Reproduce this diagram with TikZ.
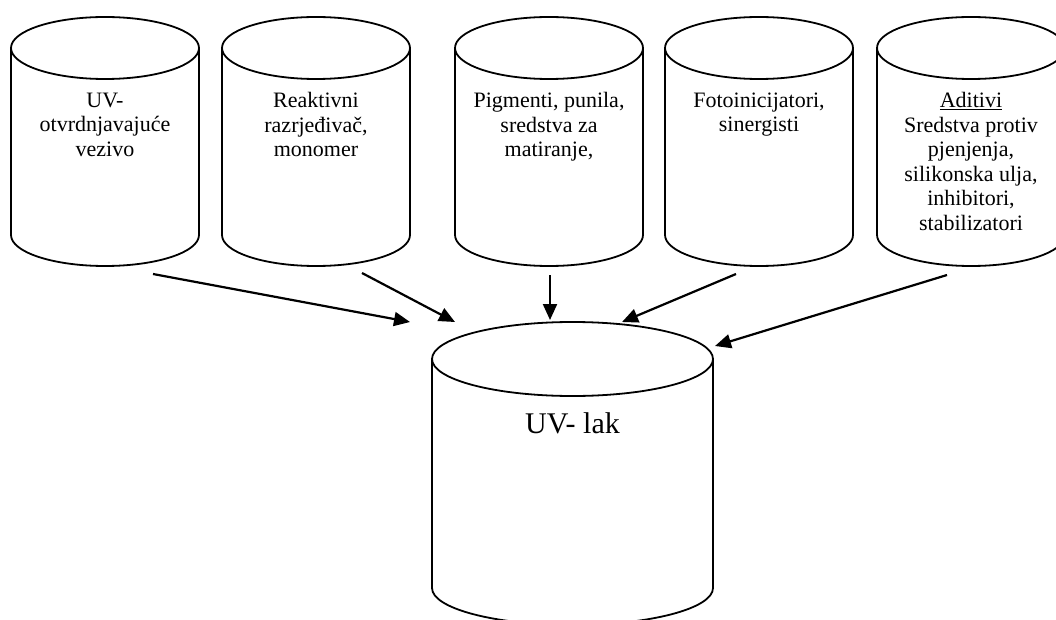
\documentclass[tikz,border=0pt]{standalone}
\usepackage{fontspec}
\setmainfont{Liberation Serif}
\usetikzlibrary{arrows.meta}
\tikzset{
  rim/.style={line width=1.8pt},
  feed/.style={-{Triangle[length=16pt,width=14pt]},line width=2.2pt},
  inscription/.style={align=center,inner sep=0pt,anchor=north,
    font=\fontsize{22}{24.5}\selectfont},
  pics/barrel/.style n args={3}{code={
    \draw[rim] (-#1,0) -- (-#1,-#3)
      arc[start angle=180,end angle=360,x radius=#1,y radius=#2] -- (#1,0);
    \draw[rim] (0,0) ellipse[x radius=#1,y radius=#2];
  }},
}

\begin{document}
\begin{tikzpicture}[x=1pt,y=1pt]
  \clip (0,0) rectangle (1056,-620);
  % raw materials
  \foreach \cx in {105,316,549,759,971}
    \pic at (\cx,-48) {barrel={94}{31}{187}};
  % product
  \pic at (572.5,-359) {barrel={140.5}{37}{229}};

  \node (binder) [inscription] at (105,-92.5) {UV-\\otvrdnjavajuće\\vezivo};
  \node (diluent) [inscription] at (316,-92.5) {Reaktivni\\razrjeđivač,\\monomer};
  \node (pigment) [inscription] at (549,-92.5) {Pigmenti, punila,\\sredstva za\\matiranje,};
  \node (photo) [inscription] at (759,-92.5) {Fotoinicijatori,\\sinergisti};
  \node (additive) [inscription] at (971,-92.5)
    {\underline{Aditivi}\\Sredstva protiv\\pjenjenja,\\silikonska ulja,\\inhibitori,\\stabilizatori};
  \node (lacquer) [inscription,font=\fontsize{30}{34}\selectfont] at (572.5,-412) {UV- lak};

  % arrow ends
  \coordinate (s1) at (153,-274);
  \coordinate (e1) at (410,-322);
  \coordinate (s2) at (362,-273);
  \coordinate (e2) at (455,-322);
  \coordinate (s3) at (550,-275);
  \coordinate (e3) at (550,-320);
  \coordinate (s4) at (736,-274);
  \coordinate (e4) at (622,-322);
  \coordinate (s5) at (947,-275);
  \coordinate (e5) at (715,-346);
  \foreach \i in {1,...,5}
    \draw[feed] (s\i) -- (e\i);
\end{tikzpicture}
\end{document}
